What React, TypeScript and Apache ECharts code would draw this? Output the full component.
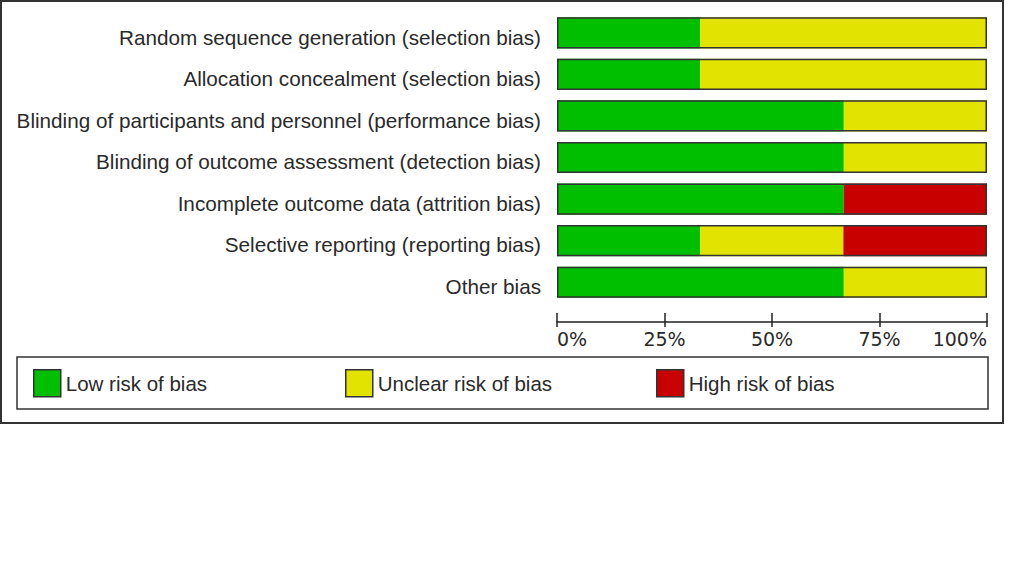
import React, { useEffect, useRef } from "react";
import * as echarts from "echarts";

const categories = [
  "Random sequence generation (selection bias)",
  "Allocation concealment (selection bias)",
  "Blinding of participants and personnel (performance bias)",
  "Blinding of outcome assessment (detection bias)",
  "Incomplete outcome data (attrition bias)",
  "Selective reporting (reporting bias)",
  "Other bias",
];
const lowRisk = [33.3, 33.3, 66.7, 66.7, 66.7, 33.3, 66.7];
const unclearRisk = [66.7, 66.7, 33.3, 33.3, 0, 33.3, 33.3];
const highRisk = [0, 0, 0, 0, 33.3, 33.4, 0];
const totals = [100, 100, 100, 100, 100, 100, 100];
const tickLabels = ["0%", "25%", "50%", "75%", "100%"];
const seriesNames = ["Low risk of bias", "Unclear risk of bias", "High risk of bias"];
const colors = ["#00BE00", "#E3E300", "#C80000"];

export default function App() {
  const ref = useRef<HTMLDivElement>(null);
  useEffect(() => {
    if (!ref.current) return;
    const chart = echarts.init(ref.current, undefined, { renderer: "svg" });
    const textFont = "'Liberation Sans', Arial, sans-serif";
    const axisCommon = {
      type: "value",
      min: 0,
      max: 100,
      interval: 25,
      position: "bottom",
      offset: 19,
      splitLine: { show: false },
    };
    const legendBase = (i: number, left: number) => ({
      data: [seriesNames[i]],
      left,
      top: 369,
      padding: 0,
      orient: "horizontal",
      icon: "rect",
      itemWidth: 27,
      itemHeight: 27,
      selectedMode: false,
      itemStyle: { borderColor: "#333", borderWidth: 1.5 },
      textStyle: { fontFamily: textFont, fontSize: 20.5, color: "#2a2a2a" },
    });
    chart.setOption({
      animation: false,
      backgroundColor: "#fff",
      grid: { left: 557, top: 12, width: 430, height: 291, containLabel: false },
      xAxis: [
        {
          ...axisCommon,
          axisLine: { show: true, lineStyle: { color: "#222", width: 1.5 } },
          axisTick: { show: true, inside: false, length: 5, lineStyle: { color: "#222", width: 1.5 } },
          axisLabel: {
            show: true,
            margin: 7,
            fontFamily: "'DejaVu Sans', Verdana, sans-serif",
            fontSize: 19,
            color: "#2a2a2a",
            alignMinLabel: "left",
            alignMaxLabel: "right",
            formatter: (v: number) => tickLabels[Math.round(v / 25)],
          },
        },
        {
          ...axisCommon,
          axisLine: { show: false },
          axisTick: { show: true, inside: true, length: 9, lineStyle: { color: "#222", width: 1.5 } },
          axisLabel: { show: false },
        },
      ],
      yAxis: {
        type: "category",
        data: categories,
        inverse: true,
        axisLine: { show: false },
        axisTick: { show: false },
        axisLabel: {
          margin: 16,
          fontFamily: textFont,
          fontSize: 20.7,
          color: "#2a2a2a",
          verticalAlign: "top",
          lineHeight: 8.5,
        },
      },
      legend: [legendBase(0, 33), legendBase(1, 345), legendBase(2, 656)],
      series: [
        ...[lowRisk, unclearRisk, highRisk].map((d, i) => ({
          name: seriesNames[i],
          type: "bar",
          stack: "risk",
          data: d,
          barWidth: "75%",
          itemStyle: { color: colors[i] },
          emphasis: { disabled: true },
        })),
        {
          name: "outline",
          type: "bar",
          data: totals,
          barWidth: "75%",
          barGap: "-100%",
          silent: true,
          itemStyle: { color: "rgba(0,0,0,0)", borderColor: "#333", borderWidth: 1.5 },
          emphasis: { disabled: true },
        },
      ],
      graphic: [
        {
          type: "rect",
          shape: { x: 1, y: 1, width: 1002, height: 422 },
          style: { fill: "none", stroke: "#333", lineWidth: 2 },
          silent: true,
        },
        {
          type: "rect",
          shape: { x: 17, y: 357, width: 971, height: 52 },
          style: { fill: "none", stroke: "#333", lineWidth: 1.5 },
          silent: true,
        },
      ],
    });
    return () => chart.dispose();
  }, []);
  return (
    <div
      ref={ref}
      style={{ position: "fixed", left: 0, top: 0, width: 1024, height: 576 }}
    />
  );
}
